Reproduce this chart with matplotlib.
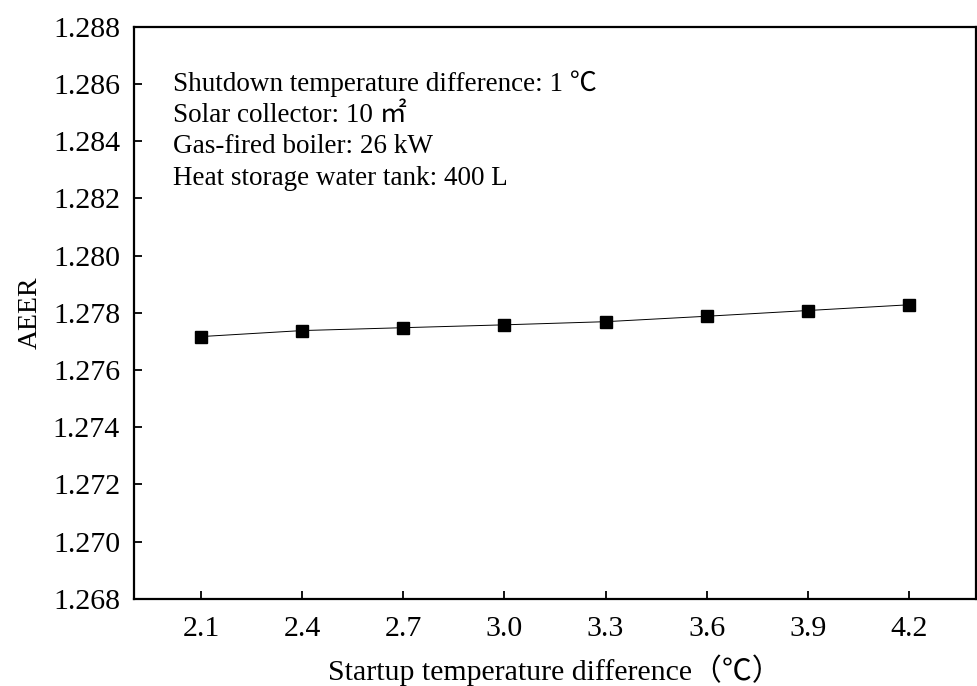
import matplotlib
matplotlib.use('Agg')
import matplotlib.pyplot as plt

# Data
startup_dt = [2.1, 2.4, 2.7, 3.0, 3.3, 3.6, 3.9, 4.2]
aeer = [1.27717, 1.27738, 1.27748, 1.27758, 1.27769, 1.27788, 1.27808, 1.27828]
notes = ['Shutdown temperature difference: 1 \u2103',
         'Solar collector: 10 \u33a1',
         'Gas-fired boiler: 26 kW',
         'Heat storage water tank: 400 L']

plt.rcParams['font.family'] = ['Liberation Serif', 'Noto Sans CJK SC', 'DejaVu Sans']

fig = plt.figure(figsize=(9.78, 6.86), dpi=100)
ax = fig.add_subplot(111)
fig.subplots_adjust(left=0.137, right=0.998, top=0.961, bottom=0.127)

ax.plot(startup_dt, aeer, color='black', lw=0.7, marker='s', markersize=8.5,
        markerfacecolor='black', markeredgecolor='black')

ax.set_xlim(1.9, 4.4)
ax.set_ylim(1.268, 1.288)
ax.set_xticks(startup_dt)
ax.set_xticklabels(['%.1f' % v for v in startup_dt])
ax.set_yticks([1.268 + 0.002 * i for i in range(11)])
ax.set_yticklabels(['%.3f' % (1.268 + 0.002 * i) for i in range(11)])
ax.tick_params(direction='in', length=6, width=1.3, labelsize=21.5)
ax.tick_params(axis='y', pad=10)
ax.tick_params(axis='x', pad=12)
for sp in ax.spines.values():
    sp.set_linewidth(1.6)

ax.set_xlabel('Startup temperature difference\uff08\u2103\uff09', fontsize=21.5, labelpad=9)
ax.set_ylabel('AEER', fontsize=20, labelpad=7)

for i, t in enumerate(notes):
    ax.text(0.046, 0.901 - i * 0.0553, t, transform=ax.transAxes, fontsize=19.5,
            va='center', ha='left')

fig.savefig('out.png', dpi=100)
